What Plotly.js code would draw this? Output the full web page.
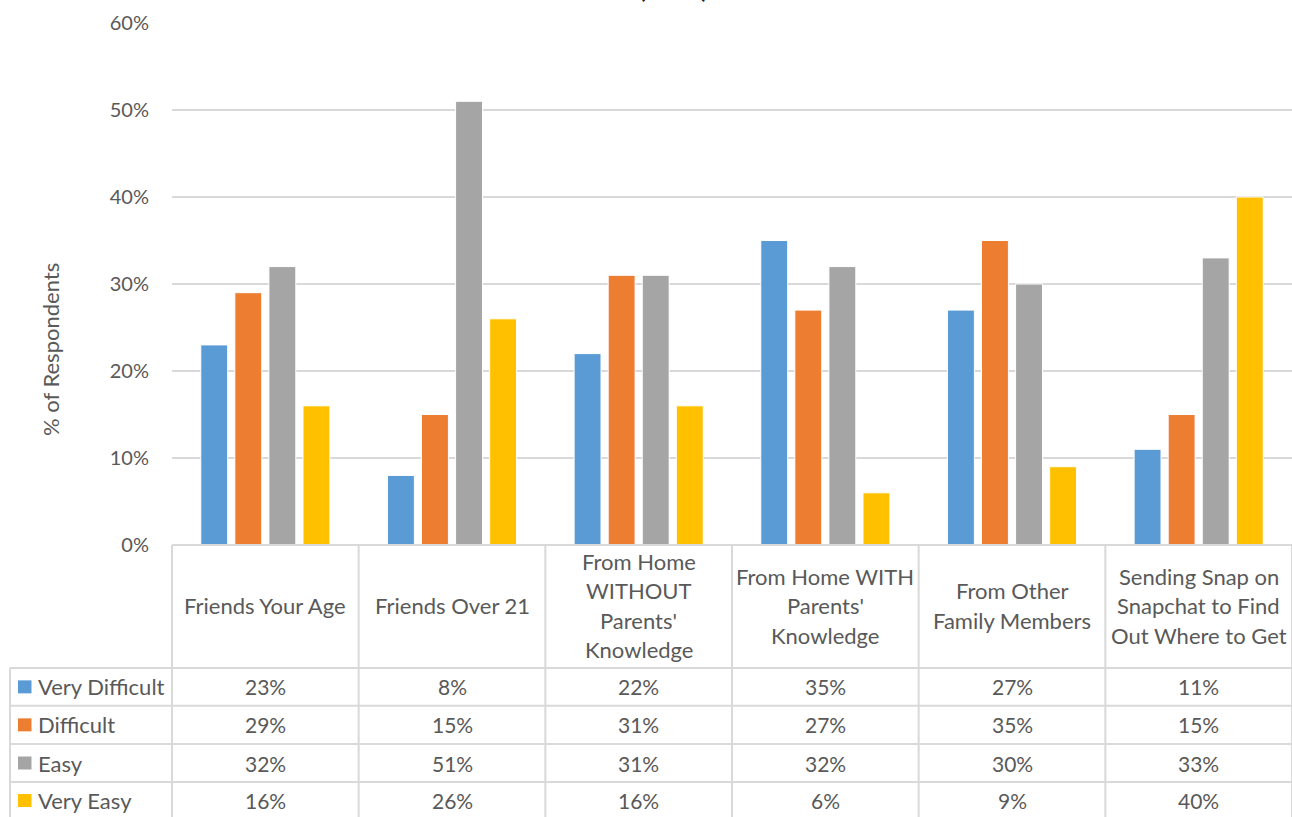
<!DOCTYPE html>
<html>
<head>
<meta charset="utf-8">
<script src="https://cdn.plot.ly/plotly-3.0.1.min.js"></script>
<style>
  html, body { margin: 0; padding: 0; background: #fff; }
  #chart { width: 1292px; height: 817px; }
</style>
</head>
<body>
<div id="chart"></div>
<script>
// ---- data ----
const categories = [
  "Friends Your Age",
  "Friends Over 21",
  "From Home WITHOUT Parents' Knowledge",
  "From Home WITH Parents' Knowledge",
  "From Other Family Members",
  "Sending Snap on Snapchat to Find Out Where to Get"
];
const categoryLabelLines = [
  ["Friends Your Age"],
  ["Friends Over 21"],
  ["From Home", "WITHOUT", "Parents'", "Knowledge"],
  ["From Home WITH", "Parents'", "Knowledge"],
  ["From Other", "Family Members"],
  ["Sending Snap on", "Snapchat to Find", "Out Where to Get"]
];
const seriesNames = ["Very Difficult", "Difficult", "Easy", "Very Easy"];
const veryDifficult = [23, 8, 22, 35, 27, 11];
const difficult     = [29, 15, 31, 27, 35, 15];
const easy          = [32, 51, 31, 32, 30, 33];
const veryEasy      = [16, 26, 16, 6, 9, 40];
const yTickValues   = [0, 10, 20, 30, 40, 50, 60];
const titleText = "(2019)";
const yTitleText = "% of Respondents";

// ---- style ----
const colors = ["#5B9BD5", "#ED7D31", "#A5A5A5", "#FFC000"];
const FONT = "Lato, 'Open Sans', sans-serif";
const TXT = "#595959";
const GRID = "#D9D9D9";
const FS_WORD = 22;
const FS_NUM = 21;
const FS_TICK = 20;

const W = 1292, H = 817;
const L = 172, R = 0, T = 23, B = 272;
const plotW = W - L - R, plotH = H - T - B;
const px2x = p => (p - L) / plotW;
const py2y = p => (H - B - p) / plotH;

const seriesData = [veryDifficult, difficult, easy, veryEasy];
const xIdx = categories.map((c, i) => i);

const traces = seriesData.map((vals, s) => ({
  type: "bar",
  name: seriesNames[s],
  x: xIdx,
  y: vals,
  marker: { color: colors[s], line: { color: "#FFFFFF", width: 1 } },
  hoverinfo: "y+name",
  showlegend: false
}));

// ---- table (shapes + annotations) ----
const shapes = [];
const annotations = [];
const nCat = categories.length;
const colW = plotW / nCat;
const headerTop = 545, headerBot = 668;
const rowEdges = [668, 705.7, 744, 782, 820];
const legendLeft = 10;
const lineStyle = { color: GRID, width: 2 };

shapes.push({ type: "line", xref: "paper", yref: "paper",
  x0: 0, x1: 1, y0: py2y(headerTop), y1: py2y(headerTop), line: lineStyle });
for (let i = 0; i <= nCat; i++) {
  const xp = L + i * colW;
  shapes.push({ type: "line", xref: "paper", yref: "paper",
    x0: px2x(xp), x1: px2x(xp), y0: py2y(headerTop), y1: py2y(H + 5), line: lineStyle });
}
shapes.push({ type: "line", xref: "paper", yref: "paper",
  x0: px2x(legendLeft), x1: px2x(legendLeft), y0: py2y(headerBot), y1: py2y(H + 5), line: lineStyle });
rowEdges.forEach(ry => {
  shapes.push({ type: "line", xref: "paper", yref: "paper",
    x0: px2x(legendLeft), x1: 1, y0: py2y(ry), y1: py2y(ry), line: lineStyle });
});

// category header labels (per line)
const lineH = 29.5;
const headerMid = 605.5;
categoryLabelLines.forEach((lines, i) => {
  const cx = L + (i + 0.5) * colW;
  const n = lines.length;
  lines.forEach((t, k) => {
    const cy = headerMid + (k - (n - 1) / 2) * lineH;
    annotations.push({ xref: "paper", yref: "paper", x: px2x(cx), y: py2y(cy),
      xanchor: "center", yanchor: "middle", showarrow: false, text: t,
      font: { family: FONT, size: FS_WORD, color: TXT } });
  });
});

// series rows
seriesData.forEach((vals, s) => {
  const cy = (rowEdges[s] + Math.min(rowEdges[s + 1], H)) / 2 + (s === 3 ? 1 : 0);
  shapes.push({ type: "rect", xref: "paper", yref: "paper",
    x0: px2x(18), x1: px2x(31.5), y0: py2y(cy - 6.5), y1: py2y(cy + 6.5),
    fillcolor: colors[s], line: { width: 0 } });
  annotations.push({ xref: "paper", yref: "paper", x: px2x(36), y: py2y(cy),
    xanchor: "left", yanchor: "middle", showarrow: false, text: seriesNames[s],
    font: { family: FONT, size: FS_WORD, color: TXT } });
  vals.forEach((v, i) => {
    const cx = L + (i + 0.5) * colW;
    annotations.push({ xref: "paper", yref: "paper", x: px2x(cx), y: py2y(cy),
      xanchor: "center", yanchor: "middle", showarrow: false, text: v + "%",
      font: { family: FONT, size: FS_NUM, color: TXT } });
  });
});

// partially visible title (clipped at the top edge, as in the reference)
annotations.push({ xref: "paper", yref: "paper", x: px2x(673), y: py2y(5),
  xanchor: "center", yanchor: "bottom", showarrow: false, text: "<b>" + titleText + "</b>",
  font: { family: FONT, size: 24, color: "#262626" } });

// y axis title
annotations.push({ xref: "paper", yref: "paper", x: px2x(50), y: py2y(350),
  xanchor: "center", yanchor: "middle", showarrow: false, textangle: -90,
  text: yTitleText, font: { family: FONT, size: FS_WORD, color: TXT } });

const layout = {
  width: W, height: H,
  margin: { l: L, r: R, t: T, b: B, pad: 0 },
  paper_bgcolor: "#FFFFFF", plot_bgcolor: "#FFFFFF",
  barmode: "group", bargap: 0.27, bargroupgap: 0.21,
  font: { family: FONT, size: FS_TICK, color: TXT },
  showlegend: false,
  xaxis: {
    range: [-0.5, nCat - 0.5], showticklabels: false, showgrid: false,
    zeroline: false, showline: false, ticks: "", fixedrange: true
  },
  yaxis: {
    range: [0, 60], tickvals: yTickValues, ticktext: yTickValues.map(v => v + "%"),
    showgrid: true, gridcolor: GRID, gridwidth: 2, zeroline: false, showline: false,
    ticks: "", ticklabelstandoff: 22,
    tickfont: { family: FONT, size: FS_TICK, color: TXT }, fixedrange: true
  },
  shapes: shapes,
  annotations: annotations
};

Plotly.newPlot("chart", traces, layout, { displayModeBar: false, staticPlot: true });
</script>
</body>
</html>
